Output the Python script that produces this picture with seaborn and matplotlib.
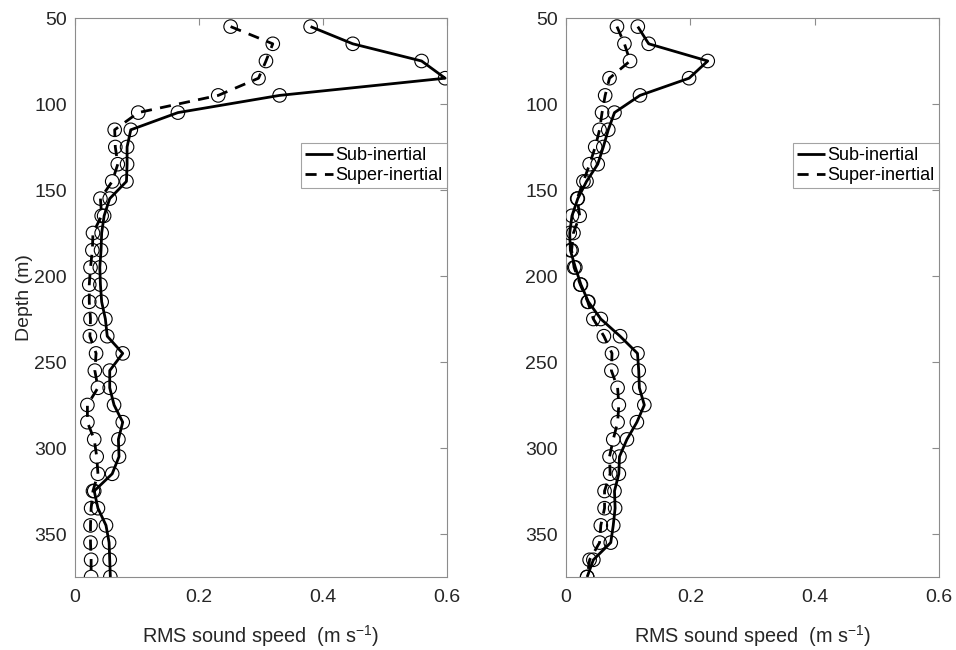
import matplotlib
matplotlib.use("Agg")
import matplotlib.pyplot as plt
import seaborn as sns
import numpy as np
import pandas as pd

depth = [55, 65, 75, 85, 95, 105, 115, 125, 135, 145, 155, 165, 175, 185, 195, 205,
         215, 225, 235, 245, 255, 265, 275, 285, 295, 305, 315, 325, 335, 345, 355, 365, 375]

left_sub = [0.380, 0.448, 0.559, 0.597, 0.330, 0.166, 0.090, 0.084, 0.084, 0.083, 0.056,
            0.047, 0.043, 0.042, 0.040, 0.041, 0.043, 0.049, 0.052, 0.077, 0.056, 0.056,
            0.063, 0.077, 0.070, 0.071, 0.060, 0.031, 0.037, 0.050, 0.055, 0.056, 0.057]
left_super = [0.251, 0.319, 0.308, 0.296, 0.231, 0.102, 0.064, 0.065, 0.069, 0.060, 0.041,
              0.043, 0.029, 0.028, 0.025, 0.023, 0.023, 0.025, 0.024, 0.034, 0.032, 0.037,
              0.020, 0.020, 0.031, 0.035, 0.037, 0.029, 0.026, 0.025, 0.025, 0.026, 0.026]

right_sub = [0.1155, 0.133, 0.228, 0.198, 0.119, 0.078, 0.068, 0.060, 0.051, 0.033, 0.019,
             0.0096, 0.006, 0.007, 0.015, 0.024, 0.036, 0.056, 0.087, 0.115, 0.117, 0.118,
             0.126, 0.114, 0.098, 0.086, 0.085, 0.078, 0.079, 0.076, 0.072, 0.044, 0.034]
right_super = [0.082, 0.094, 0.103, 0.070, 0.063, 0.058, 0.054, 0.047, 0.038, 0.028, 0.018,
               0.022, 0.012, 0.009, 0.013, 0.023, 0.035, 0.044, 0.061, 0.074, 0.073, 0.083,
               0.085, 0.083, 0.076, 0.070, 0.071, 0.062, 0.062, 0.056, 0.054, 0.038, 0.034]

series_labels = ["Sub-inertial", "Super-inertial"]
x_ticks = [0, 0.2, 0.4, 0.6]
x_tick_labels = ["0", "0.2", "0.4", "0.6"]
y_ticks = [50, 100, 150, 200, 250, 300, 350]
xlabel = "RMS sound speed  (m s$^{\\mathrm{-1}}$)"
ylabel = "Depth (m)"

sns.set_style("white")
plt.rcParams['font.family'] = ['Liberation Sans', 'DejaVu Sans']
plt.rcParams['mathtext.fontset'] = 'custom'
plt.rcParams['mathtext.rm'] = 'Liberation Sans'
plt.rcParams['axes.unicode_minus'] = False

fig = plt.figure(figsize=(9.56, 6.5), dpi=100)
ax1 = fig.add_axes([75/956, 1-577/650, (447-75)/956, (577-18)/650])
ax2 = fig.add_axes([566/956, 1-577/650, (939-566)/956, (577-18)/650])

spine_col = "#8c8c8c"
text_col = "#262626"

for ax, sub, sup, show_ylabel in [(ax1, left_sub, left_super, True),
                                  (ax2, right_sub, right_super, False)]:
    df = pd.DataFrame({"depth": depth + depth,
                       "rms": sub + sup,
                       "series": [series_labels[0]] * len(depth) + [series_labels[1]] * len(depth)})
    sns.lineplot(data=df, x="rms", y="depth", hue="series", style="series",
                 palette=["black", "black"], dashes=[(1, 0), (4, 3)],
                 sort=False, estimator=None, linewidth=2.0, ax=ax)
    sns.scatterplot(data=df, x="rms", y="depth", marker="o", s=95,
                    facecolor="none", edgecolor="black", linewidth=0.8,
                    legend=False, ax=ax, zorder=3)
    ax.set_xlim(0, 0.6)
    ax.set_ylim(375, 50)
    ax.set_xticks(x_ticks)
    ax.set_xticklabels(x_tick_labels)
    ax.set_yticks(y_ticks)
    ax.tick_params(direction="in", length=5, width=0.8, color=spine_col,
                   labelsize=14, labelcolor=text_col, top=True, right=True, pad=6)
    ax.tick_params(axis="x", pad=9)
    for sp in ax.spines.values():
        sp.set_color(spine_col)
        sp.set_linewidth(0.8)
        sp.set_visible(True)
    ax.set_xlabel(xlabel, fontsize=14.3, color=text_col, labelpad=12)
    if show_ylabel:
        ax.set_ylabel(ylabel, fontsize=14, color=text_col, labelpad=1)
    else:
        ax.set_ylabel("")
    handles, labels = ax.get_legend_handles_labels()
    leg = ax.legend(handles, labels, loc="upper right", bbox_to_anchor=(1.0, 0.777),
                    borderaxespad=0.0, frameon=True, fancybox=False, fontsize=13,
                    handlelength=1.5, handletextpad=0.15, borderpad=0.25,
                    labelspacing=0.15)
    leg.get_frame().set_edgecolor(spine_col)
    leg.get_frame().set_linewidth(0.8)
    for t in leg.get_texts():
        t.set_color("black")

fig.savefig("out.png", dpi=100)
